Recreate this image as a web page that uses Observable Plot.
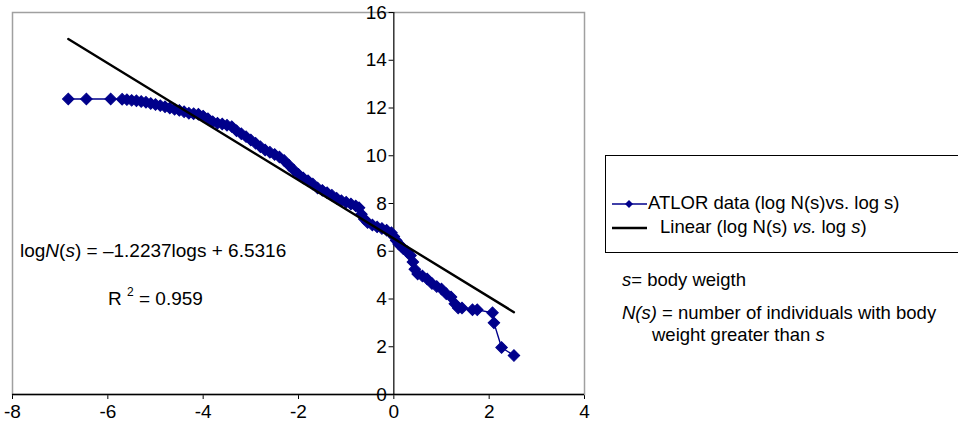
<!DOCTYPE html>
<html>
<head>
<meta charset="utf-8">
<script src="https://cdn.jsdelivr.net/npm/d3@7"></script>
<script src="https://cdn.jsdelivr.net/npm/@observablehq/plot@0.6"></script>
<style>
  html, body { margin: 0; padding: 0; background: #fff; overflow: hidden; }
  #wrap { position: relative; width: 958px; height: 430px; font-family: Arial, "Liberation Sans", sans-serif; color: #000; }
  .abs { position: absolute; white-space: nowrap; font-size: 18.5px; line-height: 22px; }
  #legend { position: absolute; left: 605px; top: 155px; width: 400px; height: 98px; border: 1.5px solid #000; box-sizing: border-box; }
</style>
</head>
<body>
<div id="wrap"></div>
<script>
// ATLOR data: log s (x) and log N(s) (y)
const logS = [
  -6.83, -6.45, -5.94, -5.70, -5.60, -5.50, -5.40, -5.30, -5.20, -5.10, -5.00,
  -4.90, -4.80, -4.70, -4.60, -4.50, -4.40, -4.30, -4.20, -4.10, -4.00,
  -3.90, -3.80, -3.70, -3.60, -3.50, -3.40, -3.30, -3.20, -3.10, -3.00,
  -2.90, -2.80, -2.70, -2.60, -2.50, -2.40, -2.30, -2.20, -2.10, -2.00,
  -1.90, -1.80, -1.70, -1.60, -1.50, -1.40, -1.30, -1.20, -1.10, -1.00,
  -0.90, -0.80, -0.73, -0.68, -0.62, -0.55, -0.45, -0.35, -0.25, -0.15, -0.05,
  0.00, 0.05, 0.10, 0.15, 0.20, 0.28, 0.35, 0.40, 0.44, 0.50, 0.60, 0.70,
  0.80, 0.90, 1.00, 1.10, 1.20, 1.28, 1.35, 1.43, 1.65, 1.75, 2.07, 2.10, 2.26, 2.52
];
const logN = [
  12.38, 12.38, 12.38, 12.37, 12.35, 12.32, 12.30, 12.27, 12.24, 12.19, 12.15,
  12.10, 12.05, 12.00, 11.95, 11.90, 11.84, 11.78, 11.76, 11.74, 11.66,
  11.55, 11.42, 11.36, 11.33, 11.28, 11.22, 11.05, 10.92, 10.80, 10.66,
  10.52, 10.38, 10.24, 10.15, 10.05, 9.95, 9.80, 9.60, 9.40, 9.22,
  9.07, 8.95, 8.82, 8.65, 8.55, 8.45, 8.35, 8.22, 8.12, 8.05,
  7.98, 7.90, 7.82, 7.55, 7.35, 7.20, 7.10, 7.02, 6.95, 6.88, 6.78,
  6.62, 6.45, 6.30, 6.22, 6.10, 5.98, 5.82, 5.55, 5.25, 5.05, 4.96, 4.84,
  4.65, 4.52, 4.42, 4.22, 4.08, 3.80, 3.62, 3.62, 3.55, 3.55, 3.42, 3.00, 1.97, 1.63
];
// Fitted line stated on the chart
const slope = -1.2237;
const intercept = 6.5316;
const xTicks = [-8, -6, -4, -2, 0, 2, 4];
const yTicks = [0, 2, 4, 6, 8, 10, 12, 14, 16];

const data = logS.map((x, i) => ({x, y: logN[i]}));
const ext = d3.extent(logS);
const fit = ext.map(x => ({x, y: slope * x + intercept}));
const navy = "#00008b";

const chart = Plot.plot({
  width: 958,
  height: 430,
  marginLeft: 12,
  marginRight: 374,
  marginTop: 12,
  marginBottom: 36,
  style: {fontFamily: 'Arial, "Liberation Sans", sans-serif', fontSize: "19px", background: "transparent", overflow: "visible"},
  x: {domain: [-8, 4], ticks: xTicks, tickSize: 5, tickPadding: 5, tickFormat: d => String(d), label: null},
  y: {domain: [0, 16], axis: null},
  marks: [
    Plot.frame({stroke: "#a0a0a0", strokeWidth: 1.5}),
    Plot.ruleY([0], {stroke: "#000", strokeWidth: 1.5}),
    Plot.ruleX([0], {y1: 0, y2: 16, stroke: "#000", strokeWidth: 1.2}),
    Plot.ruleY(yTicks, {y: d => d, x1: -0.1, x2: 0, stroke: "#000"}),
    Plot.text(yTicks, {x: 0, y: d => d, dx: -7, textAnchor: "end", text: d => String(d), fontSize: 19, fill: "#000"}),
    Plot.line(data, {x: "x", y: "y", stroke: navy, strokeWidth: 1.4}),
    Plot.dot(data, {x: "x", y: "y", symbol: "square", rotate: 45, r: 4.6, fill: navy, stroke: navy, strokeWidth: 1}),
    Plot.line(fit, {x: "x", y: "y", stroke: "#000", strokeWidth: 2.4})
  ]
});

const wrap = document.getElementById("wrap");
chart.style.position = "absolute";
chart.style.left = "0px";
chart.style.top = "0px";
wrap.appendChild(chart);

function addText(html, left, top, extra) {
  const d = document.createElement("div");
  d.className = "abs";
  d.innerHTML = html;
  d.style.left = left + "px";
  d.style.top = top + "px";
  if (extra) Object.assign(d.style, extra);
  wrap.appendChild(d);
  return d;
}

addText('log<i>N</i>(<i>s</i>) = &ndash;1.2237logs + 6.5316', 20, 240, {fontSize: "19px"});
addText('R <sup style="font-size:12px;position:relative;top:-2px">2</sup> = 0.959', 108, 283, {fontSize: "19px"});

const legend = document.createElement("div");
legend.id = "legend";
wrap.appendChild(legend);

addText('<svg width="35" height="10" style="vertical-align:middle;margin-right:1px"><line x1="0" y1="5" x2="35" y2="5" stroke="' + navy + '" stroke-width="1.3"/><path d="M17,1 L21,5 L17,9 L13,5 Z" fill="' + navy + '"/></svg>ATLOR data (log N(s)vs. log s)', 612, 192);
addText('<svg width="35" height="10" style="vertical-align:middle;margin-right:13px"><line x1="0" y1="5" x2="35" y2="5" stroke="#000" stroke-width="2.4"/></svg>Linear (log N(s) <i>vs.</i> log <i>s</i>)', 612, 216);

addText('<i>s</i>= body weigth', 622, 269);
addText('<i>N(s)</i> = number of individuals with body', 622, 302);
addText('weight greater than <i>s</i>', 652, 324);
</script>
</body>
</html>
